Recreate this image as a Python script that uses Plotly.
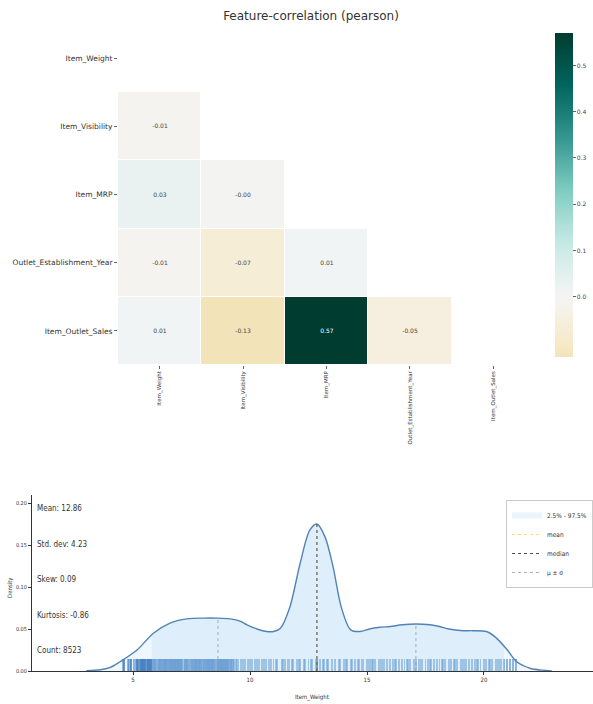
import numpy as np
import plotly.graph_objects as go

# ---------------- correlation matrix (lower triangle) ----------------
features = ["Item_Weight", "Item_Visibility", "Item_MRP",
            "Outlet_Establishment_Year", "Item_Outlet_Sales"]
corr_row_visibility = [-0.01]
corr_row_mrp = [0.03, -0.00]
corr_row_year = [-0.01, -0.07, 0.01]
corr_row_sales = [0.01, -0.13, 0.57, -0.05]
corr_lower = [[], corr_row_visibility, corr_row_mrp, corr_row_year, corr_row_sales]
cbar_ticks = [0.0, 0.1, 0.2, 0.3, 0.4, 0.5]

# ---------------- Item_Weight distribution ----------------
kde_x = [3.0, 3.6, 4.0, 4.44, 5.17, 5.87, 6.58, 7.3, 8.0, 8.6, 9.15, 9.6, 9.87,
         10.3, 10.7, 11.0, 11.3, 11.7, 12.14, 12.56, 12.86, 13.2, 13.55, 13.9,
         14.3, 14.7, 15.1, 15.55, 16.0, 16.5, 17.1, 17.7, 18.1, 18.5, 19.1, 19.5,
         20.1, 20.5, 21.0, 21.4, 22.0, 22.5, 22.9]
kde_y = [0.0003, 0.0015, 0.004, 0.011, 0.025, 0.045, 0.057, 0.062, 0.063, 0.063,
         0.062, 0.059, 0.055, 0.050, 0.047, 0.047, 0.051, 0.076, 0.128, 0.168,
         0.175, 0.160, 0.124, 0.076, 0.049, 0.047, 0.050, 0.052, 0.053, 0.055,
         0.056, 0.055, 0.053, 0.050, 0.048, 0.048, 0.047, 0.040, 0.025, 0.011,
         0.003, 0.001, 0.0002]

rug_values = [
    4.555, 4.59, 4.61, 4.635, 4.785, 4.805, 4.88, 4.905, 4.92, 5.03, 5.11, 5.15,
    5.175, 5.19, 5.21, 5.26, 5.305, 5.325, 5.34, 5.365, 5.38, 5.4, 5.425, 5.44,
    5.465, 5.48, 5.5, 5.51, 5.55, 5.6, 5.615, 5.635, 5.655, 5.675, 5.695, 5.71,
    5.73, 5.75, 5.78, 5.8, 5.825, 5.85, 5.88, 5.905, 5.925, 5.945, 5.98,
    6.03, 6.055, 6.11, 6.115, 6.13, 6.135, 6.15, 6.17, 6.195, 6.215, 6.235, 6.26,
    6.28, 6.305, 6.32, 6.325, 6.36, 6.38, 6.385, 6.405, 6.42, 6.425, 6.44, 6.465,
    6.48, 6.52, 6.55, 6.575, 6.59, 6.61, 6.635, 6.655, 6.67, 6.69, 6.71, 6.715,
    6.76, 6.78, 6.785, 6.8, 6.82, 6.825, 6.86, 6.89, 6.905, 6.92, 6.935, 6.96,
    6.98, 7.0, 7.02, 7.035, 7.06, 7.07, 7.075, 7.1, 7.17, 7.21, 7.235, 7.27,
    7.285, 7.31, 7.315, 7.35, 7.39, 7.42, 7.47, 7.5, 7.52, 7.55, 7.57, 7.6, 7.63,
    7.645, 7.67, 7.685, 7.71, 7.72, 7.75, 7.785, 7.81, 7.825, 7.84, 7.855, 7.895,
    7.905, 7.93, 7.97, 8.01, 8.02, 8.05, 8.06, 8.1, 8.115, 8.155, 8.18, 8.195,
    8.21, 8.235, 8.26, 8.27, 8.3, 8.31, 8.35, 8.365, 8.375, 8.39, 8.42, 8.43,
    8.47, 8.51, 8.52, 8.575, 8.6, 8.63, 8.645, 8.66, 8.67, 8.695, 8.71, 8.74,
    8.75, 8.77, 8.785, 8.8, 8.83, 8.85, 8.88, 8.895, 8.92, 8.93, 8.96, 8.97, 9.0,
    9.03, 9.06, 9.065, 9.105, 9.13, 9.17, 9.195, 9.21, 9.27, 9.285, 9.3,
    9.395, 9.42, 9.5, 9.6, 9.695, 9.8, 9.895, 10.0, 10.1, 10.195, 10.3, 10.395,
    10.5, 10.6, 10.695, 10.8, 10.895, 11.0, 11.1, 11.15, 11.35, 11.395, 11.5,
    11.6, 11.65, 11.8, 11.85, 12.0, 12.1, 12.15, 12.3, 12.35, 12.5, 12.6, 12.65,
    12.8, 12.85, 12.857645, 12.857645, 12.857645, 13.0, 13.1, 13.15, 13.3, 13.35,
    13.5, 13.65, 13.8, 13.85, 14.0, 14.1, 14.15, 14.3, 14.35, 14.5, 14.6, 14.65,
    14.8, 14.85, 15.0, 15.1, 15.15, 15.2, 15.25, 15.35, 15.5, 15.6, 15.7, 15.75,
    15.85, 16.0, 16.1, 16.2, 16.25, 16.35, 16.5, 16.6, 16.7, 16.75, 16.85, 17.0,
    17.1, 17.2, 17.25, 17.35, 17.5, 17.6, 17.7, 17.75, 17.85, 18.0, 18.1, 18.2,
    18.25, 18.35, 18.5, 18.6, 18.7, 18.75, 18.85, 19.0, 19.1, 19.2, 19.25, 19.35,
    19.5, 19.6, 19.7, 19.75, 19.85, 20.0, 20.1, 20.2, 20.25, 20.35, 20.5, 20.6,
    20.7, 20.75, 20.85, 21.0, 21.1, 21.25, 21.35]

mean_val = 12.86
median_val = 12.86
std_val = 4.23
skew_val = 0.09
kurt_val = -0.86
count_val = 8523
q_low, q_high = 5.8, 20.85

W, H = 593, 704
TOP_FONT = "DejaVu Sans"
BOT_FONT = "Liberation Sans Narrow, DejaVu Sans Condensed, Arial Narrow, sans-serif"

# ---------------- diverging BrBG colour scale centred on zero ----------------
brbg = ["#543005", "#8c510a", "#bf812d", "#dfc27d", "#f6e8c3", "#f5f5f5",
        "#c7eae5", "#80cdc1", "#35978f", "#01665e", "#003c30"]


def hex_rgb(h):
    return np.array([int(h[i:i + 2], 16) for i in (1, 3, 5)], dtype=float)


def brbg_at(f):
    f = min(max(f, 0.0), 1.0) * (len(brbg) - 1)
    i = min(int(f), len(brbg) - 2)
    t = f - i
    c = (1 - t) * hex_rgb(brbg[i]) + t * hex_rgb(brbg[i + 1])
    return "rgb(%d,%d,%d)" % tuple(np.round(c))


all_vals = [v for row in corr_lower for v in row]
zmin, zmax = min(all_vals), max(all_vals)
span = max(abs(zmin), abs(zmax))
colorscale = []
for t in np.linspace(0, 1, 31):
    v = zmin + t * (zmax - zmin)
    colorscale.append([float(t), brbg_at(0.5 + v / (2 * span))])

n = len(features)
z = [[None] * n for _ in range(n)]
txt = [[""] * n for _ in range(n)]
for i, row in enumerate(corr_lower):
    for j, v in enumerate(row):
        z[i][j] = v
        txt[i][j] = f"{v:.2f}"

fig = go.Figure()
fig.add_trace(go.Heatmap(
    z=z, x=features, y=features, text=txt, texttemplate="%{text}",
    textfont=dict(size=6, family=TOP_FONT),
    colorscale=colorscale, zmin=zmin, zmax=zmax, xgap=1, ygap=1,
    hoverongaps=False, showscale=True,
    colorbar=dict(x=555 / W, xanchor="left", thickness=18, xpad=0, ypad=0,
                  y=(H - 195) / H, yanchor="middle", len=324 / H, lenmode="fraction",
                  outlinewidth=0, ticks="outside", ticklen=3, tickcolor="#666",
                  tickvals=cbar_ticks, ticktext=[f"{v:.1f}" for v in cbar_ticks],
                  tickfont=dict(size=6, family=TOP_FONT, color="#444")),
    xaxis="x", yaxis="y"))

# ---------------- distribution panel ----------------
kx = np.array(kde_x)
ky = np.array(kde_y)
SHADE = "rgba(190,225,248,%s)"

# light translucent shading under the whole density curve
fig.add_trace(go.Scatter(x=kde_x, y=kde_y, mode="lines", line=dict(width=0, shape="spline"),
                         fill="tozeroy", fillcolor=SHADE % 0.26,
                         showlegend=False, hoverinfo="skip", xaxis="x2", yaxis="y2"))

# central 95% range
sel = (kx > q_low) & (kx < q_high)
rx = [q_low] + list(kx[sel]) + [q_high]
ry = [float(np.interp(q_low, kx, ky))] + list(ky[sel]) + [float(np.interp(q_high, kx, ky))]
fig.add_trace(go.Scatter(x=rx, y=ry, mode="none", line=dict(shape="spline"),
                         fill="tozeroy", fillcolor=SHADE % 0.33,
                         name="2.5% - 97.5%", xaxis="x2", yaxis="y2"))

# rug
rug_h = 0.0143
fig.add_trace(go.Bar(x=rug_values, y=[rug_h] * len(rug_values), width=0.08,
                     marker=dict(color="rgba(25,95,175,0.55)", line=dict(width=0)),
                     showlegend=False, hoverinfo="skip", xaxis="x2", yaxis="y2"))

# density curve
fig.add_trace(go.Scatter(x=kde_x, y=kde_y, mode="lines",
                         line=dict(color="#5283b6", width=1.4, shape="spline", smoothing=0.9),
                         showlegend=False, hoverinfo="skip", xaxis="x2", yaxis="y2"))

# mean / median / std markers
mean_top = float(np.interp(mean_val, kx, ky))
fig.add_trace(go.Scatter(x=[mean_val, mean_val], y=[0, mean_top], mode="lines",
                         line=dict(color="rgba(255,190,60,0.6)", width=1.0, dash="dot"),
                         name="mean", xaxis="x2", yaxis="y2"))
med_top = float(np.interp(median_val, kx, ky))
fig.add_trace(go.Scatter(x=[median_val, median_val], y=[0, med_top], mode="lines",
                         line=dict(color="#4a4a4a", width=1.0, dash="dot"),
                         name="median", xaxis="x2", yaxis="y2"))
sx, sy = [], []
for v in (mean_val - std_val, mean_val + std_val):
    sx += [v, v, None]
    sy += [0, float(np.interp(v, kx, ky)), None]
fig.add_trace(go.Scatter(x=sx, y=sy, mode="lines",
                         line=dict(color="#9a9a9a", width=0.8, dash="dot"),
                         name="\u03bc \u00b1 \u03c3", xaxis="x2", yaxis="y2"))

stats_lines = [f"Mean: {mean_val:.2f}", f"Std. dev: {std_val:.2f}", f"Skew: {skew_val:.2f}",
               f"Kurtosis: {kurt_val:.2f}", f"Count: {count_val}"]
stat_y_px = [508, 544, 579, 615, 650]
annotations = []
for s, ypx in zip(stats_lines, stat_y_px):
    annotations.append(dict(text=s, xref="paper", yref="paper", x=35 / W, y=(H - ypx) / H,
                            xanchor="left", yanchor="middle", showarrow=False,
                            font=dict(size=8, family=BOT_FONT, color="#333")))
annotations.append(dict(text="Density", xref="paper", yref="paper", x=10 / W, y=(H - 588) / H,
                        textangle=-90, showarrow=False, xanchor="center", yanchor="middle",
                        font=dict(size=6, family=BOT_FONT, color="#333")))
annotations.append(dict(text="Item_Weight", xref="paper", yref="paper", x=312 / W, y=(H - 697) / H,
                        showarrow=False, xanchor="center", yanchor="middle",
                        font=dict(size=6, family=BOT_FONT, color="#333")))

fig.update_layout(
    width=W, height=H, margin=dict(l=0, r=0, t=0, b=0),
    paper_bgcolor="white", plot_bgcolor="white", barmode="overlay", bargap=0,
    title=dict(text="Feature-correlation (pearson)", x=311 / W, xanchor="center",
               y=(H - 16) / H, yanchor="middle",
               font=dict(size=12, family=TOP_FONT, color="#333")),
    xaxis=dict(domain=[118 / W, 535 / W], anchor="y", range=[-0.5, n - 0.5],
               tickangle=-90, ticks="outside", ticklen=3, tickcolor="#666",
               tickfont=dict(size=5.5, family=TOP_FONT, color="#333"),
               showgrid=False, zeroline=False, showline=False, automargin=False),
    yaxis=dict(domain=[(H - 365) / H, (H - 24) / H], anchor="x", range=[n - 0.5, -0.5],
               ticks="outside", ticklen=3, tickcolor="#666",
               tickfont=dict(size=7.5, family=TOP_FONT, color="#333"),
               showgrid=False, zeroline=False, showline=False, automargin=False),
    xaxis2=dict(domain=[32 / W, 1.0], anchor="y2", range=[0.68, 24.66],
                tickvals=[5, 10, 15, 20], ticks="outside", ticklen=3, tickcolor="#333",
                tickfont=dict(size=6, family=BOT_FONT, color="#333"),
                showline=True, linecolor="#333", linewidth=1,
                showgrid=False, zeroline=False, automargin=False),
    yaxis2=dict(domain=[(H - 671) / H, (H - 494.6) / H], anchor="x2", range=[0, 0.21],
                tickvals=[0, 0.05, 0.10, 0.15, 0.20], tickformat=".2f",
                ticks="outside", ticklen=3, tickcolor="#333",
                tickfont=dict(size=5.5, family=BOT_FONT, color="#333"),
                showline=True, linecolor="#333", linewidth=1,
                showgrid=False, zeroline=False, automargin=False),
    legend=dict(x=1.0, xanchor="right", y=(H - 500) / H, yanchor="top",
                bgcolor="white", bordercolor="#cccccc", borderwidth=1,
                font=dict(size=6.5, family=BOT_FONT, color="#333"),
                itemwidth=30, tracegroupgap=0),
    annotations=annotations,
)

fig.write_html("out.html")
